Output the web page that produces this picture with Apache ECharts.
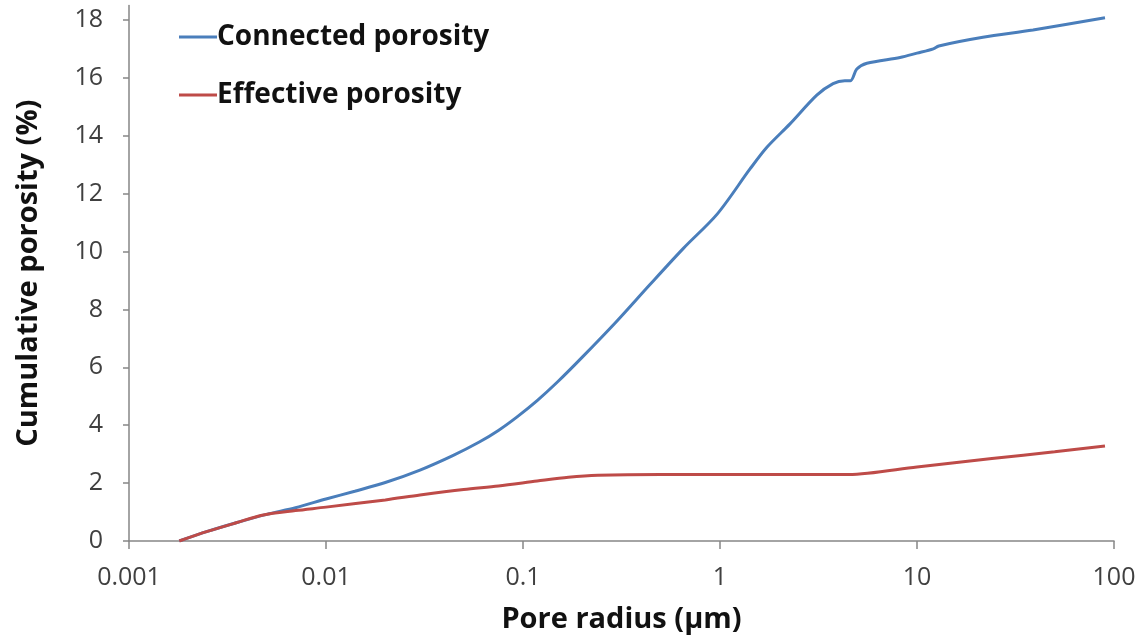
<!DOCTYPE html>
<html>
<head>
<meta charset="utf-8">
<script src="https://cdn.jsdelivr.net/npm/echarts@6/dist/echarts.min.js"></script>
<style>
html,body{margin:0;padding:0;background:#fff;}
#chart{width:1145px;height:639px;}
</style>
</head>
<body>
<div id="chart"></div>
<script>
// Pore radius (µm) and cumulative porosity (%)
const connectedX = [0.0018, 0.0025, 0.0035, 0.005, 0.007, 0.01, 0.014, 0.02, 0.03, 0.044, 0.06, 0.075, 0.093, 0.118, 0.15, 0.2, 0.3, 0.44, 0.65, 0.97, 1.42, 1.73, 2.26, 3.1, 3.75, 4.3, 4.6, 4.95, 5.57, 8.2, 10, 12.1, 12.9, 21.6, 38.8, 90];
const connectedY = [0, 0.33, 0.63, 0.92, 1.15, 1.45, 1.72, 2.02, 2.45, 2.95, 3.42, 3.82, 4.28, 4.85, 5.5, 6.35, 7.6, 8.85, 10.1, 11.3, 12.85, 13.6, 14.4, 15.4, 15.8, 15.9, 15.9, 16.3, 16.5, 16.7, 16.85, 17.0, 17.1, 17.4, 17.65, 18.07];
const effectiveX = [0.0018, 0.0025, 0.0035, 0.0048, 0.007, 0.01, 0.02, 0.03, 0.05, 0.075, 0.118, 0.17, 0.24, 0.5, 1, 2, 4.5, 10, 24, 50, 90];
const effectiveY = [0, 0.33, 0.63, 0.9, 1.05, 1.17, 1.42, 1.59, 1.78, 1.9, 2.07, 2.2, 2.27, 2.3, 2.3, 2.3, 2.3, 2.56, 2.85, 3.08, 3.28];
const seriesNames = ['Connected porosity', 'Effective porosity'];
const xTickLabels = ['0.001', '0.01', '0.1', '1', '10', '100'];
const yTicks = [0, 2, 4, 6, 8, 10, 12, 14, 16, 18];

const pair = (xs, ys) => xs.map((x, i) => [x, ys[i]]);

const chart = echarts.init(document.getElementById('chart'));
const axisColor = '#868686';
const labelFont = {fontFamily: 'Open Sans', fontSize: 25, color: '#404040'};
const titleFont = {fontFamily: 'Open Sans', fontWeight: 'bold', fontSize: 29, color: '#111'};

chart.setOption({
  animation: false,
  backgroundColor: '#ffffff',
  grid: {left: 129, right: 31, top: 5.4, bottom: 98},
  legend: {
    orient: 'vertical',
    left: 174,
    top: 17,
    itemWidth: 38,
    itemHeight: 3,
    itemGap: 28,
    icon: 'rect',
    data: seriesNames,
    textStyle: {fontFamily: 'Open Sans', fontWeight: 'bold', fontSize: 28, color: '#111', lineHeight: 30, padding: [0, 0, 0, -5]}
  },
  xAxis: {
    type: 'log',
    logBase: 10,
    min: 0.001,
    max: 100,
    name: 'Pore radius (µm)',
    nameLocation: 'middle',
    nameGap: 64,
    nameTextStyle: titleFont,
    axisLine: {show: true, lineStyle: {color: axisColor, width: 1.5}},
    axisTick: {show: true, inside: false, length: 8, lineStyle: {color: axisColor, width: 1.5}},
    minorTick: {show: false},
    splitLine: {show: false},
    axisLabel: Object.assign({}, labelFont, {
      margin: 24,
      formatter: function (v) {
        const e = Math.round(Math.log10(v));
        return xTickLabels[e + 3];
      }
    })
  },
  yAxis: {
    type: 'value',
    min: 0,
    max: 18.5,
    interval: 2,
    name: 'Cumulative porosity (%)',
    nameLocation: 'middle',
    nameGap: 86,
    nameRotate: 90,
    nameTextStyle: titleFont,
    axisLine: {show: true, lineStyle: {color: axisColor, width: 1.5}},
    axisTick: {show: true, inside: false, length: 6, customValues: yTicks, lineStyle: {color: axisColor, width: 1.5}},
    splitLine: {show: false},
    axisLabel: Object.assign({}, labelFont, {margin: 26, customValues: yTicks, formatter: v => String(v)})
  },
  series: [
    {
      name: seriesNames[0],
      type: 'line',
      data: pair(connectedX, connectedY),
      showSymbol: false,
      smooth: 0.3,
      lineStyle: {color: '#4a7ebb', width: 3},
      itemStyle: {color: '#4a7ebb'},
      z: 2
    },
    {
      name: seriesNames[1],
      type: 'line',
      data: pair(effectiveX, effectiveY),
      showSymbol: false,
      smooth: 0.3,
      lineStyle: {color: '#be4b48', width: 3},
      itemStyle: {color: '#be4b48'},
      z: 3
    }
  ]
});
</script>
</body>
</html>
